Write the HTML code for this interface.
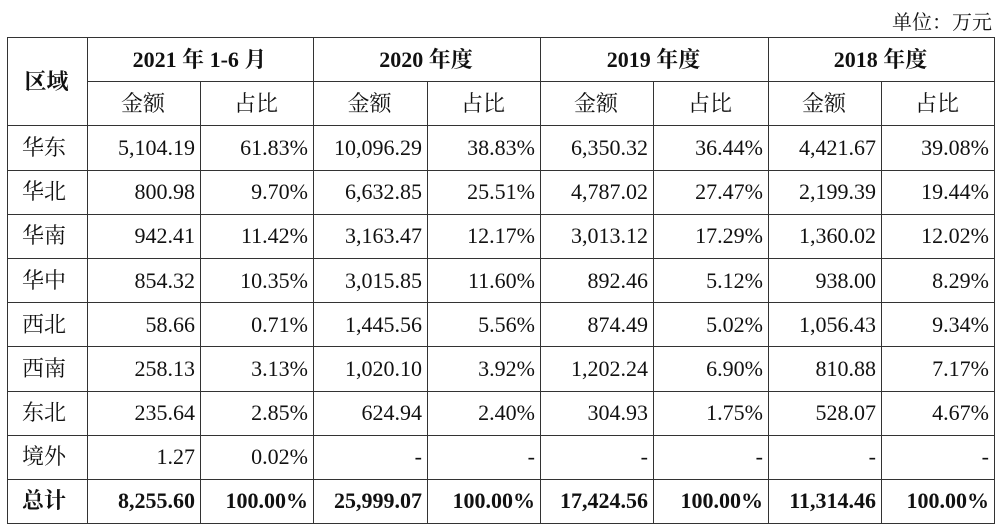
<!DOCTYPE html>
<html><head><meta charset="utf-8"><style>
body{margin:0;background:#fff;width:1000px;height:529px;overflow:hidden;font-family:"Liberation Serif","Noto Serif CJK SC",serif;color:#111}
.u{position:absolute;right:8px;top:6px;font-size:20px}
table{position:absolute;left:7px;top:37px;border-collapse:collapse;table-layout:fixed}
td{border:1.5px solid #333;font-size:22px;padding:0 5px 0 3px;height:42.7px;box-sizing:border-box;text-align:right;white-space:nowrap;line-height:1}
tr{height:44.2px}
td.l{text-align:left;padding-left:14px}
td.c{text-align:center}
.b td{font-weight:bold}
</style></head><body>
<div class="u">单位：万元</div>
<table>
<colgroup><col style="width:80px"><col style="width:113px"><col style="width:113px"><col style="width:114px"><col style="width:113px"><col style="width:113px"><col style="width:115px"><col style="width:113px"><col style="width:113px"></colgroup>
<tr><td class="c" rowspan="2" style="font-weight:bold">区域</td><td class="c" colspan="2" style="font-weight:bold">2021 年 1-6 月</td><td class="c" colspan="2" style="font-weight:bold">2020 年度</td><td class="c" colspan="2" style="font-weight:bold">2019 年度</td><td class="c" colspan="2" style="font-weight:bold">2018 年度</td></tr>
<tr><td class="c">金额</td><td class="c">占比</td><td class="c">金额</td><td class="c">占比</td><td class="c">金额</td><td class="c">占比</td><td class="c">金额</td><td class="c">占比</td></tr>
<tr><td class="l">华东</td><td>5,104.19</td><td>61.83%</td><td>10,096.29</td><td>38.83%</td><td>6,350.32</td><td>36.44%</td><td>4,421.67</td><td>39.08%</td></tr>
<tr><td class="l">华北</td><td>800.98</td><td>9.70%</td><td>6,632.85</td><td>25.51%</td><td>4,787.02</td><td>27.47%</td><td>2,199.39</td><td>19.44%</td></tr>
<tr><td class="l">华南</td><td>942.41</td><td>11.42%</td><td>3,163.47</td><td>12.17%</td><td>3,013.12</td><td>17.29%</td><td>1,360.02</td><td>12.02%</td></tr>
<tr><td class="l">华中</td><td>854.32</td><td>10.35%</td><td>3,015.85</td><td>11.60%</td><td>892.46</td><td>5.12%</td><td>938.00</td><td>8.29%</td></tr>
<tr><td class="l">西北</td><td>58.66</td><td>0.71%</td><td>1,445.56</td><td>5.56%</td><td>874.49</td><td>5.02%</td><td>1,056.43</td><td>9.34%</td></tr>
<tr><td class="l">西南</td><td>258.13</td><td>3.13%</td><td>1,020.10</td><td>3.92%</td><td>1,202.24</td><td>6.90%</td><td>810.88</td><td>7.17%</td></tr>
<tr><td class="l">东北</td><td>235.64</td><td>2.85%</td><td>624.94</td><td>2.40%</td><td>304.93</td><td>1.75%</td><td>528.07</td><td>4.67%</td></tr>
<tr><td class="l">境外</td><td>1.27</td><td>0.02%</td><td>-</td><td>-</td><td>-</td><td>-</td><td>-</td><td>-</td></tr>
<tr class="b"><td class="l">总计</td><td>8,255.60</td><td>100.00%</td><td>25,999.07</td><td>100.00%</td><td>17,424.56</td><td>100.00%</td><td>11,314.46</td><td>100.00%</td></tr>
</table>
</body></html>
